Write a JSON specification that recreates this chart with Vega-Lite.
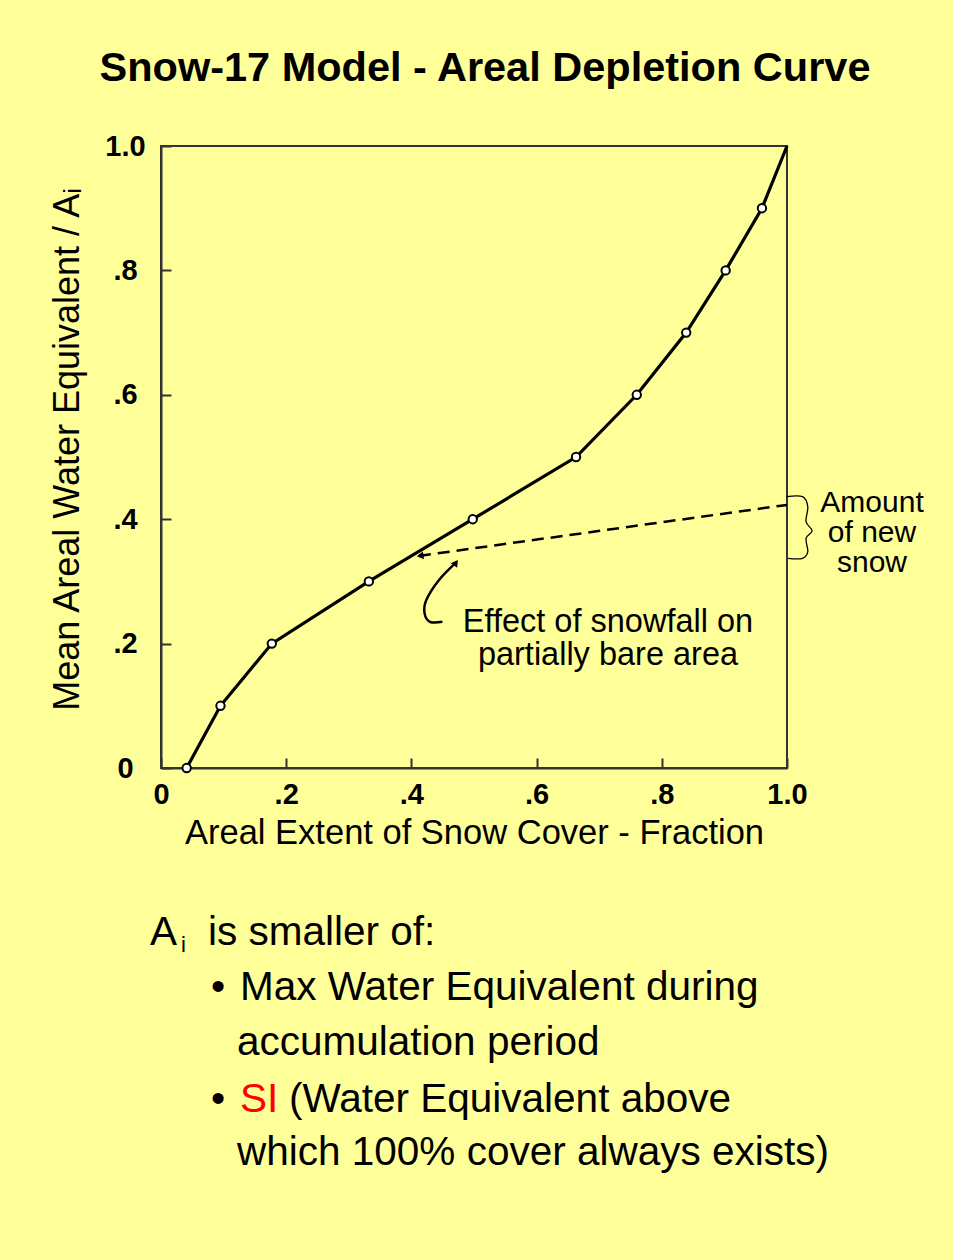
{
  "$schema": "https://vega.github.io/schema/vega-lite/v6.json",
  "width": 626,
  "height": 622,
  "autosize": {"type": "none"},
  "padding": {"left": 161, "top": 146, "right": 166, "bottom": 492},
  "background": "#FFFF99",
  "title": {
    "text": "Snow-17 Model - Areal Depletion Curve",
    "font": "Liberation Sans",
    "fontSize": 41.5,
    "fontWeight": "bold",
    "color": "#000000",
    "anchor": "middle",
    "dx": 11,
    "baseline": "alphabetic",
    "offset": 10
  },
  "config": {
    "view": {"stroke": "#333333", "strokeWidth": 2},
    "axis": {
      "grid": false,
      "domainColor": "#333333",
      "domainWidth": 2,
      "tickColor": "#333333",
      "tickWidth": 2,
      "tickSize": -10,
      "labelFont": "Liberation Sans",
      "labelFontSize": 29,
      "labelFontWeight": "bold",
      "labelColor": "#000000",
      "titleFont": "Liberation Sans",
      "titleFontSize": 34.5,
      "titleFontWeight": "normal",
      "titleColor": "#000000",
      "zindex": 1
    }
  },
  "datasets": {
    "curve": [
      {"x": 0.041, "y": 0.0},
      {"x": 0.095, "y": 0.1},
      {"x": 0.177, "y": 0.2},
      {"x": 0.332, "y": 0.3},
      {"x": 0.498, "y": 0.4},
      {"x": 0.663, "y": 0.5},
      {"x": 0.76, "y": 0.6},
      {"x": 0.839, "y": 0.7},
      {"x": 0.902, "y": 0.8},
      {"x": 0.96, "y": 0.9},
      {"x": 1.0, "y": 1.0}
    ],
    "snowfall": [
      {"x": 0.412, "y": 0.341},
      {"x": 1.0, "y": 0.423}
    ],
    "snowfallHead": [
      {"x": 0.414, "y": 0.341}
    ],
    "pointer": [
      {"i": 1, "x": 0.4495, "y": 0.235},
      {"i": 2, "x": 0.4296, "y": 0.235},
      {"i": 3, "x": 0.421, "y": 0.249},
      {"i": 4, "x": 0.4238, "y": 0.27},
      {"i": 5, "x": 0.4438, "y": 0.302},
      {"i": 6, "x": 0.472, "y": 0.331}
    ],
    "pointerHead": [
      {"x": 0.4711, "y": 0.3299}
    ],
    "brace": [
      {"i": 1, "x": 0.999, "y": 0.4362},
      {"i": 2, "x": 1.0248, "y": 0.4362},
      {"i": 3, "x": 1.0332, "y": 0.4201},
      {"i": 4, "x": 1.0304, "y": 0.396},
      {"i": 5, "x": 1.0401, "y": 0.3815},
      {"i": 6, "x": 1.0304, "y": 0.3693},
      {"i": 7, "x": 1.0332, "y": 0.3477},
      {"i": 8, "x": 1.0248, "y": 0.3371},
      {"i": 9, "x": 1.0019, "y": 0.3371}
    ],
    "effectNote": [
      {"x": 0.714, "y": 0.219, "text": "Effect of snowfall on\npartially bare area"}
    ],
    "amountNote": [
      {"x": 1.1358, "y": 0.412, "text": "Amount\nof new\nsnow"}
    ],
    "footer": [
      {"x": -0.0176, "y": -0.2846, "text": "A"},
      {"x": 0.0751, "y": -0.2846, "text": "is smaller of:"},
      {"x": 0.0799, "y": -0.373, "text": "•"},
      {"x": 0.1262, "y": -0.373, "text": "Max Water Equivalent during"},
      {"x": 0.1214, "y": -0.4614, "text": "accumulation period"},
      {"x": 0.0799, "y": -0.5531, "text": "•"},
      {"x": 0.2045, "y": -0.5531, "text": "(Water Equivalent above"},
      {"x": 0.1214, "y": -0.6383, "text": "which 100% cover always exists)"}
    ],
    "footerRed": [
      {"x": 0.1262, "y": -0.5531, "text": "SI"}
    ],
    "footerSub": [
      {"x": 0.0319, "y": -0.2958, "text": "i"}
    ]
  },
  "encoding": {
    "x": {
      "field": "x",
      "type": "quantitative",
      "scale": {"domain": [0, 1], "nice": false, "zero": false},
      "axis": {
        "title": "Areal Extent of Snow Cover - Fraction",
        "values": [0, 0.2, 0.4, 0.6, 0.8, 1],
        "labelExpr": "datum.value === 0 ? '0' : datum.value === 1 ? '1.0' : slice(format(datum.value, '.1f'), 1)",
        "labelPadding": 36,
        "labelBaseline": "middle",
        "labelAlign": "center",
        "titleY": 65,
        "titleBaseline": "middle"
      }
    },
    "y": {
      "field": "y",
      "type": "quantitative",
      "scale": {"domain": [0, 1], "nice": false, "zero": false},
      "axis": {
        "title": "Mean Areal Water Equivalent / Aᵢ",
        "values": [0, 0.2, 0.4, 0.6, 0.8, 1],
        "labelExpr": "datum.value === 0 ? '0' : datum.value === 1 ? '1.0' : slice(format(datum.value, '.1f'), 1)",
        "labelPadding": 46,
        "labelAlign": "center",
        "labelBaseline": "middle",
        "titleAngle": -90,
        "titleX": -94,
        "titleY": 303,
        "titleAlign": "center",
        "titleBaseline": "middle",
        "titleFontSize": 36
      }
    }
  },
  "layer": [
    {
      "data": {"name": "curve"},
      "mark": {"type": "line", "color": "#000000", "strokeWidth": 3.2}
    },
    {
      "data": {"name": "curve"},
      "transform": [{"filter": "datum.x < 1"}],
      "mark": {"type": "point", "shape": "circle", "filled": true, "fill": "#FFFFFF", "stroke": "#000000", "strokeWidth": 2, "size": 70, "opacity": 1}
    },
    {
      "data": {"name": "snowfall"},
      "mark": {"type": "line", "color": "#000000", "strokeWidth": 2.5, "strokeDash": [12, 7]}
    },
    {
      "data": {"name": "snowfallHead"},
      "mark": {"type": "point", "shape": "triangle-left", "filled": true, "color": "#000000", "size": 60, "angle": -8, "opacity": 1}
    },
    {
      "data": {"name": "pointer"},
      "mark": {"type": "line", "color": "#000000", "strokeWidth": 2.5, "interpolate": "cardinal"},
      "encoding": {"order": {"field": "i", "type": "quantitative"}}
    },
    {
      "data": {"name": "pointerHead"},
      "mark": {"type": "point", "shape": "triangle-up", "filled": true, "color": "#000000", "size": 60, "angle": 35, "opacity": 1}
    },
    {
      "data": {"name": "brace"},
      "mark": {"type": "line", "color": "#000000", "strokeWidth": 1.3, "interpolate": "cardinal"},
      "encoding": {"order": {"field": "i", "type": "quantitative"}}
    },
    {
      "data": {"name": "effectNote"},
      "mark": {"type": "text", "font": "Liberation Sans", "fontSize": 32.5, "align": "center", "baseline": "alphabetic", "color": "#000000", "lineBreak": "\n", "lineHeight": 33},
      "encoding": {"text": {"field": "text"}}
    },
    {
      "data": {"name": "amountNote"},
      "mark": {"type": "text", "font": "Liberation Sans", "fontSize": 30, "align": "center", "baseline": "alphabetic", "color": "#000000", "lineBreak": "\n", "lineHeight": 30},
      "encoding": {"text": {"field": "text"}}
    },
    {
      "data": {"name": "footer"},
      "mark": {"type": "text", "font": "Liberation Sans", "fontSize": 40.5, "align": "left", "baseline": "alphabetic", "color": "#000000"},
      "encoding": {"text": {"field": "text"}}
    },
    {
      "data": {"name": "footerRed"},
      "mark": {"type": "text", "font": "Liberation Sans", "fontSize": 40.5, "align": "left", "baseline": "alphabetic", "color": "#FF0000"},
      "encoding": {"text": {"field": "text"}}
    },
    {
      "data": {"name": "footerSub"},
      "mark": {"type": "text", "font": "Liberation Sans", "fontSize": 22, "align": "left", "baseline": "alphabetic", "color": "#000000"},
      "encoding": {"text": {"field": "text"}}
    }
  ]
}
